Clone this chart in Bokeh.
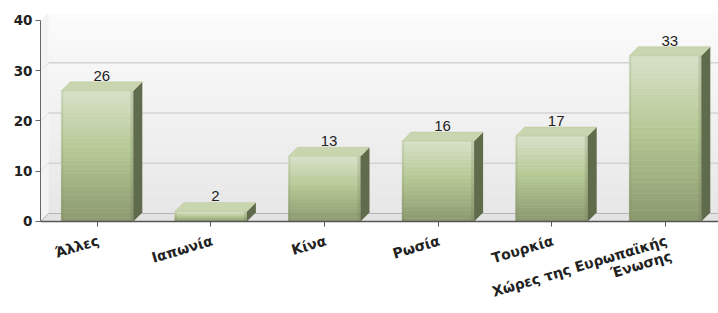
import numpy as np
from bokeh.plotting import figure
from bokeh.models import Range1d, FixedTicker
from bokeh.core.properties import value
from bokeh.embed import file_html
from bokeh.resources import INLINE

# ---- data ----
categories = ["Άλλες", "Ιαπωνία", "Κίνα", "Ρωσία", "Τουρκία",
              "Χώρες της Ευρωπαϊκής\nΈνωσης"]
values = [26, 2, 13, 16, 17, 33]
y_ticks = [0, 10, 20, 30, 40]

# ---- geometry / style ----
PX_X = 113.6     # px per category unit
PX_Y = 5.025     # px per value unit
TOP_BORDER, BOTTOM_BORDER, HEIGHT = 13, 10, 313
FRAME_H = HEIGHT - TOP_BORDER - BOTTOM_BORDER
Y_END = 41.39
Y_START = Y_END - FRAME_H / PX_Y
X_END = (718 - 40) / PX_X
BAR_W = 72 / PX_X
DXB, DYB = 9 / PX_X, 9 / PX_Y      # bar depth
DXW, DYW = 8 / PX_X, 8 / PX_Y      # wall depth

def hex2rgb(h):
    h = h.lstrip("#")
    return np.array([int(h[i:i + 2], 16) for i in (0, 2, 4)], dtype=float)

def rgb2hex(c):
    return "#%02x%02x%02x" % tuple(int(round(v)) for v in c)

def grad(stops, t):
    for (t0, c0), (t1, c1) in zip(stops[:-1], stops[1:]):
        if t0 <= t <= t1:
            f = (t - t0) / (t1 - t0) if t1 > t0 else 0
            return rgb2hex(hex2rgb(c0) * (1 - f) + hex2rgb(c1) * f)
    return stops[-1][1]

bar_stops = [(0.0, "#d8e1c8"), (0.45, "#b6c995"), (1.0, "#8b996f")]
wall_stops = [(0.0, "#fbfbfb"), (1.0, "#e7e7e7")]

p = figure(width=718, height=HEIGHT, x_range=Range1d(0, X_END), y_range=Range1d(Y_START, Y_END),
           output_backend="svg", toolbar_location=None,
           min_border_left=40, min_border_right=0, min_border_top=TOP_BORDER,
           min_border_bottom=BOTTOM_BORDER,
           background_fill_color="white", border_fill_color="white")
p.outline_line_color = None
p.grid.visible = False

# back wall gradient
NW = 24
wb = [DYW + (Y_END - DYW) * k / NW for k in range(NW)]
wt = [DYW + (Y_END - DYW) * (k + 1) / NW for k in range(NW)]
wc = [grad(wall_stops, 1 - (k + 0.5) / NW) for k in range(NW)]
p.quad(left=DXW, right=X_END, bottom=wb, top=wt, fill_color=wc, line_color=wc, line_width=0.5)

# left wall
p.patch([0, 0, DXW, DXW], [0, y_ticks[-1], y_ticks[-1] + DYW, DYW],
        fill_color="#f3f3f3", line_color=None)
# floor
p.patch([0, X_END, X_END, DXW], [0, 0, DYW, DYW], fill_color="#e3e3e3", line_color=None)
p.line([DXW, X_END], [DYW, DYW], line_color="#b5b5b5", line_width=1)
p.line([0, DXW], [0, DYW], line_color="#b5b5b5", line_width=1)

# gridlines on back wall
for t in y_ticks[1:-1]:
    p.line([DXW, X_END], [t + DYW, t + DYW], line_color="#d3d3d3", line_width=1.5)
    p.line([0, DXW], [t, t + DYW], line_color="#e0e0e0", line_width=1)

# bars
centers = [i + 0.5 for i in range(len(values))]
NB = 30
for c, v in zip(centers, values):
    l, r = c - BAR_W / 2, c + BAR_W / 2
    bots = [v * k / NB for k in range(NB)]
    tops = [v * (k + 1) / NB for k in range(NB)]
    cols = [grad(bar_stops, 1 - (k + 0.5) / NB) for k in range(NB)]
    p.quad(left=l, right=r, bottom=bots, top=tops, fill_color=cols, line_color=cols, line_width=0.5)
    # soft darker edges
    p.quad(left=l, right=l + 2 / PX_X, bottom=0, top=v, fill_color="#5f6b4a", fill_alpha=0.12, line_color=None)
    p.quad(left=r - 3 / PX_X, right=r, bottom=0, top=v, fill_color="#5f6b4a", fill_alpha=0.18, line_color=None)
    # side face
    p.patch([r, r + DXB, r + DXB, r], [0, DYB, v + DYB, v], fill_color="#606b4c", line_color=None)
    # top face
    p.patch([l, r, r + DXB, l + DXB], [v, v, v + DYB, v + DYB], fill_color="#c9d5ae",
            line_color="#b9c79c", line_width=0.5)

# value labels
p.text(x=[c + DXB / 2 for c in centers], y=[v + DYB for v in values], text=[str(v) for v in values],
       text_align="center", text_baseline="bottom", y_offset=-1,
       text_font=value("Liberation Sans"), text_font_size=value("15px"), text_color="#222222")

# y axis
ya = p.yaxis[0]
ya.ticker = FixedTicker(ticks=y_ticks)
ya.bounds = (0, y_ticks[-1])
ya.axis_line_color = "#666666"
ya.major_tick_line_color = "#666666"
ya.major_tick_out = 5
ya.major_tick_in = 0
ya.minor_tick_line_color = None
ya.major_label_standoff = 3
ya.major_label_text_font = "DejaVu Sans"
ya.major_label_text_font_style = "bold"
ya.major_label_text_font_size = "13.5px"
ya.major_label_text_color = "#222222"

# x axis: drawn at value 0 inside the frame; category names as rotated text
xa = p.xaxis[0]
xa.fixed_location = 0
xa.ticker = FixedTicker(ticks=centers)
xa.major_label_overrides = {c: "" for c in centers}
xa.major_label_text_font_size = "1px"
xa.major_label_standoff = 0
xa.axis_line_color = "#555555"
xa.axis_line_width = 1.5
xa.major_tick_line_color = "#555555"
xa.major_tick_out = 5
xa.major_tick_in = 0
xa.minor_tick_line_color = None

p.text(x=centers, y=[-11 / PX_Y] * len(centers), text=categories, x_offset=-1,
       angle=0.29, text_align="right", text_baseline="top", text_line_height=1.0,
       text_font=value("DejaVu Sans"), text_font_style="bold",
       text_font_size=value("14px"), text_color="#222222")

open("out.html", "w").write(file_html(p, INLINE))
